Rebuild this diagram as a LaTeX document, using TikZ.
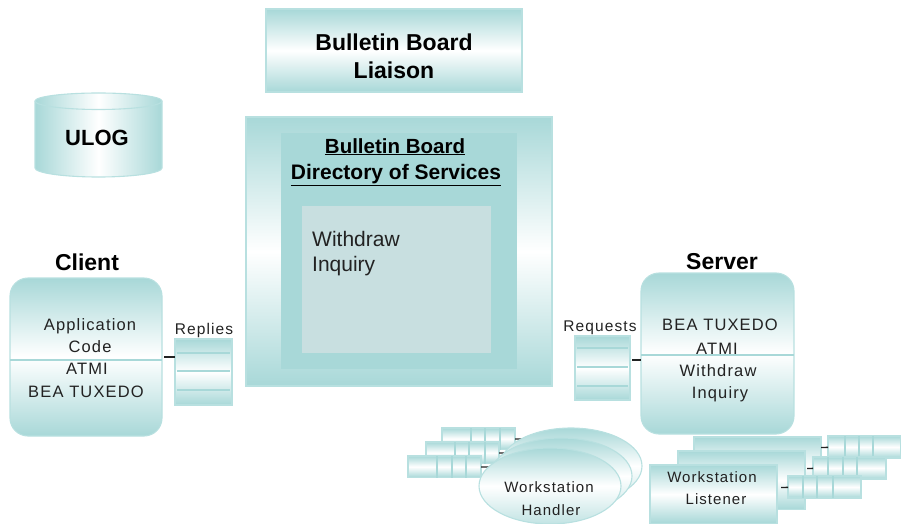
\documentclass[tikz,border=0pt]{standalone}
\usepackage{fontspec}
\usepackage{tikz}
\usetikzlibrary{shapes.geometric}
\setmainfont{Liberation Sans}
\newfontfamily\spacedfont[LetterSpace=7]{Liberation Sans}
\definecolor{teal1}{HTML}{A8D8D8}
\definecolor{teal2}{HTML}{C8DFE0}
\definecolor{edge1}{HTML}{B8E0E0}
\definecolor{ink1}{HTML}{222222}
\tikzset{
  band/.style={draw=edge1, line width=1.1pt, top color=teal1, bottom color=teal1, middle color=white, inner sep=0pt, outer sep=0pt},
  box/.style={band, minimum width=#1, anchor=north west},
  title/.style={font=\bfseries\fontsize{23}{28}\selectfont, align=center, inner sep=0pt},
  lab/.style={font=\spacedfont\fontsize{16.5}{20}\selectfont, text=ink1, align=center, inner sep=0pt},
  small/.style={font=\spacedfont\fontsize{15}{20}\selectfont, text=ink1, align=center, inner sep=0pt},
  stub/.style={draw=ink1, line width=1.4pt},
  rule/.style={draw=teal1, line width=1.4pt}
}
\begin{document}
\begin{tikzpicture}[x=1pt, y=-1pt]
      \useasboundingbox (0,0) rectangle (901,524);
      % liaison and log
      \node[box=256pt, minimum height=83pt] (liaison) at (266,9) {};
      \node[title] (liaisontext) at (394,56) {Bulletin Board\\Liaison};
      \path[draw=edge1, line width=1.1pt, left color=teal1, right color=teal1, middle color=white]
        (35,101) -- (35,168) arc[start angle=180, end angle=360, x radius=63.5pt, y radius=9pt]
        -- (162,101) arc[start angle=0, end angle=180, x radius=63.5pt, y radius=8pt] -- cycle;
      \draw[draw=edge1, line width=1.1pt] (35,101) arc[start angle=180, end angle=360, x radius=63.5pt, y radius=8.5pt];
      \node[title, font=\bfseries\fontsize{22}{26}\selectfont] (ulog) at (97,138) {ULOG};
      % board
      \node[box=306pt, minimum height=269pt] (board) at (246,117) {};
      \node[fill=teal1, inner sep=0pt, minimum width=236pt, minimum height=236pt, anchor=north west] (directory) at (281,133) {};
      \node[fill=teal2, inner sep=0pt, minimum width=189pt, minimum height=147pt, anchor=north west] (services) at (302,206) {};
      \node[title, anchor=base, font=\bfseries\fontsize{20.5}{26}\selectfont] (dirtext1) at (395,153) {\underline{Bulletin Board}};
      \node[title, anchor=base, font=\bfseries\fontsize{21}{26}\selectfont] (dirtext2) at (396,179) {\underline{Directory of Services}};
      \node[inner sep=0pt, align=left, anchor=north west, text=ink1, font=\fontsize{21}{25}\selectfont] (svctext) at (312,231) {Withdraw\\Inquiry};
      % client and server
      \node[box=152pt, minimum height=158pt, rounded corners=18pt] (client) at (10,278) {};
      \node[box=153pt, minimum height=161pt, rounded corners=18pt] (server) at (641,273) {};
      \draw[rule] (client.west |- 0,360) -- (client.east |- 0,360);
      \draw[rule] (server.west |- 0,355) -- (server.east |- 0,355);
      \node[title] (clienthead) at (87,262) {Client};
      \node[title] (serverhead) at (722,262) {Server};
      \foreach \x/\y/\noeud/\n in {90/326/Application/1, 90/347/Code/2, 87/369/ATMI/3, 86/392/BEA TUXEDO/4,
                                   720/325/BEA TUXEDO/5, 717/349/ATMI/6, 718/371/Withdraw/7, 720/394/Inquiry/8} {
        \node[lab] (text\n) at (\x,\y) {\noeud};
      }
      % reply and request queues
      \node[box=57pt, minimum height=66pt] (replies) at (175,339) {};
      \node[box=55pt, minimum height=64pt] (requests) at (575,336) {};
      \foreach \y in {353,371,390} {
        \draw[rule] (177,\y) -- (230,\y);
      }
      \foreach \y in {348,367,386} {
        \draw[rule] (577,\y) -- (628,\y);
      }
      \node[lab, font=\spacedfont\fontsize{15.5}{20}\selectfont] (replieslab) at (204,330) {Replies};
      \node[lab, font=\spacedfont\fontsize{15.5}{20}\selectfont] (requestslab) at (600,328) {Requests};
      \draw[stub, shorten <=2pt] (client.east) -- (replies.west |- client.east);
      \coordinate (reqstub) at (632,360);
      \draw[stub] (reqstub) -- (server.west |- reqstub);
      % workstation handler
      \foreach \x/\y/\n/\a/\b/\c/\s in {442/428/1/29/43/58/523, 426/442/2/29/43/59/509, 408/456/3/29/44/58/490} {
        \node[box=73pt, minimum height=21.5pt] (hq\n) at (\x,\y) {};
        \draw[rule] (\x+\a,\y) -- (\x+\a,\y+21.5);
        \draw[rule] (\x+\b,\y) -- (\x+\b,\y+21.5);
        \draw[rule] (\x+\c,\y) -- (\x+\c,\y+21.5);
        \coordinate (hs\n) at (\s,\y+11);
        \draw[stub] (hq\n) -- (hs\n);
      }
      \foreach \x/\y/\n in {571/466/1, 561/476/2, 550/486/3} {
        \node[band, ellipse, minimum width=142pt, minimum height=76pt, top color=teal1, bottom color=teal1!70, middle color=white] (hand\n) at (\x,\y) {};
      }
      \node[small] (handtext1) at (549,487) {Workstation};
      \node[small] (handtext2) at (551,510) {Handler};
      % workstation listener
      \foreach \x/\y/\n/\qx/\qy/\a/\b/\c/\s in {694/437/1/828/436/17/31/45/821, 678/451/2/813/457/15/30/44/807, 650/465/3/788/476/15/29/45/781} {
        \node[box=127pt, minimum height=58.5pt] (lis\n) at (\x,\y) {};
        \node[box=73pt, minimum height=22pt] (lq\n) at (\qx,\qy) {};
        \draw[rule] (\qx+\a,\qy) -- (\qx+\a,\qy+22);
        \draw[rule] (\qx+\b,\qy) -- (\qx+\b,\qy+22);
        \draw[rule] (\qx+\c,\qy) -- (\qx+\c,\qy+22);
        \coordinate (ls\n) at (\s,\qy+11.5);
        \draw[stub] (lq\n) -- (ls\n);
      }
      \node[small] (listext1) at (712,477) {Workstation};
      \node[small] (listext2) at (716,499) {Listener};
\end{tikzpicture}
\end{document}
